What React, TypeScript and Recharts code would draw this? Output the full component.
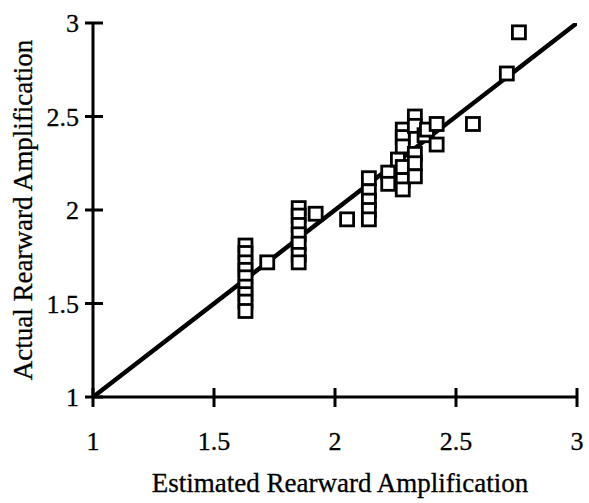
import React from 'react'
import { ScatterChart, Scatter, XAxis, YAxis } from 'recharts'

const estimated = [
  1.63, 1.63, 1.63, 1.63, 1.63, 1.63, 1.63, 1.63, 1.63,
  1.72,
  1.85, 1.85, 1.85, 1.85, 1.85, 1.85, 1.85,
  1.92, 2.05,
  2.14, 2.14, 2.14, 2.14, 2.14,
  2.22, 2.22, 2.26,
  2.28, 2.28, 2.28, 2.28, 2.28, 2.28,
  2.33, 2.33, 2.33, 2.33, 2.33,
  2.37, 2.38, 2.42, 2.42,
  2.57, 2.71, 2.76,
]
const actual = [
  1.81, 1.77, 1.72, 1.68, 1.64, 1.59, 1.55, 1.51, 1.46,
  1.72,
  2.01, 1.97, 1.92, 1.87, 1.82, 1.76, 1.72,
  1.98, 1.95,
  2.17, 2.10, 2.05, 2.00, 1.95,
  2.20, 2.14, 2.27,
  2.43, 2.39, 2.34, 2.23, 2.16, 2.11,
  2.50, 2.45, 2.30, 2.25, 2.18,
  2.40, 2.43, 2.46, 2.35,
  2.46, 2.73, 2.95,
]
const diagonal = [1, 3]
const xTicks = [1, 1.5, 2, 2.5, 3]
const yTicks = [1, 1.5, 2, 2.5, 3]

const points = estimated.map((x, i) => ({ x, y: actual[i] }))
const lineData = diagonal.map(v => ({ x: v, y: v }))

const FONT = '"Liberation Serif", "Times New Roman", serif'
const TICK = '#000'

const Square = (props: any) => {
  const { cx, cy } = props
  return <rect x={cx - 6.5} y={cy - 6.5} width={13} height={13} fill="#fff" stroke="#000" strokeWidth={2.8} />
}

// ticks cross the axis line, so draw them here instead of using tickLine
const renderXTick = (props: any) => {
  const x = Number(props.x)
  const y = Number(props.y)
  return (
    <g>
      <path d={`M${x},${y - 9}L${x},${y + 10}`} stroke={TICK} strokeWidth={3} />
      <text x={x} y={y + 53} textAnchor="middle" fontFamily={FONT} fontSize={26}
        fill="#000" stroke="#000" strokeWidth={0.3}>
        {String(props.payload.value)}
      </text>
    </g>
  )
}

const renderYTick = (props: any) => {
  const x = Number(props.x)
  const y = Number(props.y)
  return (
    <g>
      <path d={`M${x - 8},${y}L${x + 10},${y}`} stroke={TICK} strokeWidth={3} />
      <text x={x - 14} y={y + 9} textAnchor="end" fontFamily={FONT} fontSize={26}
        fill="#000" stroke="#000" strokeWidth={0.3}>
        {String(props.payload.value)}
      </text>
    </g>
  )
}

export default function App() {
  return (
    <div style={{ position: 'absolute', left: 0, top: 0, background: '#fff' }}>
      <ScatterChart width={589} height={503} margin={{ top: 23, right: 12, bottom: 0, left: 0 }}>
        <XAxis
          type="number"
          dataKey="x"
          domain={[1, 3]}
          ticks={xTicks}
          interval={0}
          height={106}
          tickSize={0}
          tickMargin={0}
          tick={renderXTick}
          axisLine={{ stroke: '#000', strokeWidth: 3 }}
          tickLine={false}
          allowDataOverflow
          label={{
            content: ({ viewBox }: any) => (
              <text x={viewBox.x + viewBox.width / 2 + 5} y={viewBox.y + 95} textAnchor="middle"
                fontFamily={FONT} fontSize={27} fill="#000" stroke="#000" strokeWidth={0.3}>
                Estimated Rearward Amplification
              </text>
            ),
          }}
        />
        <YAxis
          type="number"
          dataKey="y"
          domain={[1, 3]}
          ticks={yTicks}
          interval={0}
          width={93}
          tickSize={0}
          tickMargin={0}
          tick={renderYTick}
          axisLine={{ stroke: '#000', strokeWidth: 3 }}
          tickLine={false}
          allowDataOverflow
          label={{
            content: ({ viewBox }: any) => {
              const cy = viewBox.y + viewBox.height / 2
              return (
                <text x={32} y={cy} transform={`rotate(-90 32 ${cy})`} textAnchor="middle"
                  fontFamily={FONT} fontSize={27} fill="#000" stroke="#000" strokeWidth={0.3}>
                  Actual Rearward Amplification
                </text>
              )
            },
          }}
        />
        <Scatter data={lineData} line={{ stroke: '#000', strokeWidth: 4.5 }} shape={() => <g />} isAnimationActive={false} />
        <Scatter data={points} shape={<Square />} isAnimationActive={false} />
      </ScatterChart>
    </div>
  )
}
